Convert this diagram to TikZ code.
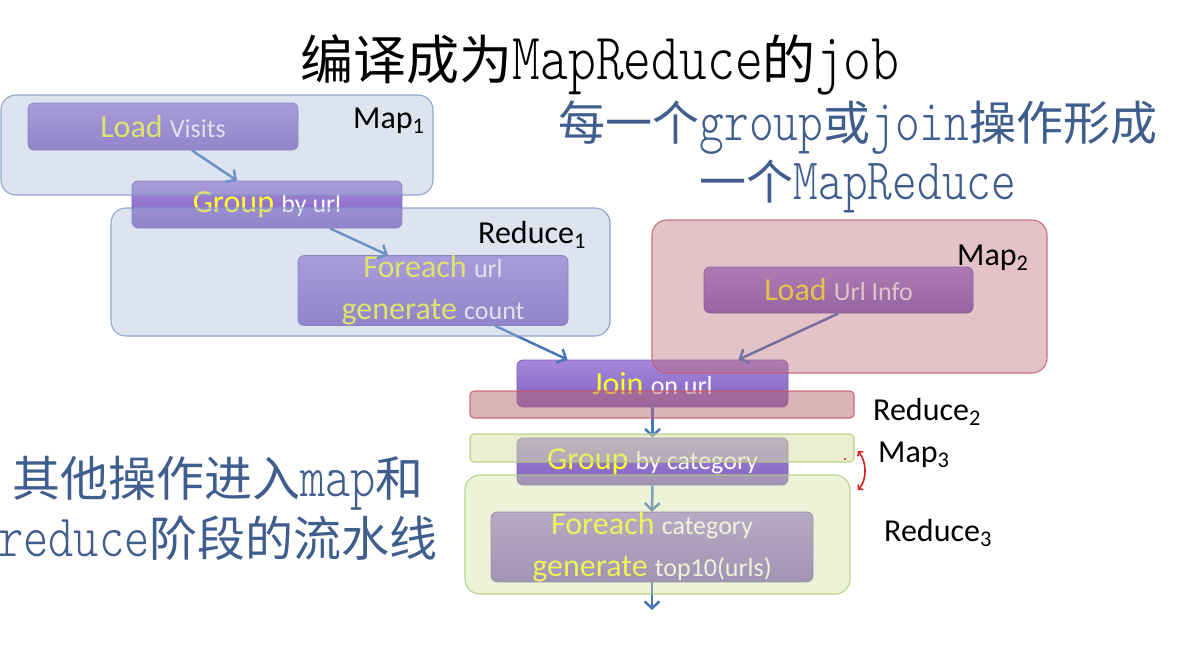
\documentclass[tikz,border=0pt]{standalone}
\usepackage{fontspec}
\setmainfont{Carlito}
\newfontfamily\cjkfont{Noto Sans CJK SC}
\newfontfamily\latf{lmmonolt10-regular}[Extension=.otf,Scale=1.25,FakeStretch=0.8]
\usetikzlibrary{arrows.meta}
\newcommand\lat[1]{{\latf #1}}
\definecolor{kwc}{RGB}{255,255,40}
\definecolor{argc}{RGB}{255,255,255}
\definecolor{optop}{RGB}{166,136,220}
\definecolor{opbot}{RGB}{128,96,190}
\definecolor{opborder}{RGB}{118,94,176}
\definecolor{arrowc}{RGB}{70,118,190}
\definecolor{bluetxt}{RGB}{63,94,142}
\definecolor{m1fill}{RGB}{172,187,217}
\definecolor{m1draw}{RGB}{128,152,196}
\definecolor{m2fill}{RGB}{185,107,118}
\definecolor{m2draw}{RGB}{196,90,106}
\definecolor{m3fill}{RGB}{212,225,162}
\definecolor{m3draw}{RGB}{178,204,124}
\definecolor{annot}{RGB}{214,32,32}
\newcommand\kwd[1]{{\color{kwc}\fontsize{32}{42}\selectfont #1}}
\newcommand\argt[1]{{\color{argc}\fontsize{26}{42}\selectfont #1}}
\tikzset{
  op/.style={rectangle, rounded corners=6pt, draw=opborder, line width=0.8pt,
    top color=optop, bottom color=opbot, inner sep=0pt, align=center,
    font=\fontsize{32}{42}\selectfont},
  cont/.style={rectangle, inner sep=0pt, fill opacity=0.4, draw opacity=0.85,
    line width=1.1pt, rounded corners=15pt},
  band/.style={cont, rounded corners=4pt, fill opacity=0.5},
  flow/.style={draw=arrowc, line width=2.5pt, -{Straight Barb[length=7pt,width=15pt]}},
  lab/.style={font=\fontsize{32}{38}\selectfont, text=black, inner sep=0pt, anchor=base west},
}
\begin{document}
\begin{tikzpicture}[x=1pt,y=-1pt]
\useasboundingbox (0,0) rectangle (1192,646);
\fill[white] (0,0) rectangle (1192,646);

% titles
\node[font=\fontsize{53}{60}\selectfont\cjkfont, text=black, inner sep=0pt] (title) at (600,65)
  {编译成为\lat{MapReduce}的\lat{job}};
\node[font=\fontsize{47}{59}\selectfont\cjkfont, text=bluetxt, align=center, inner sep=0pt] (sub) at (858,157)
  {每一个\lat{group}或\lat{join}操作形成\\一个\lat{MapReduce}};
\node[font=\fontsize{48}{60}\selectfont\cjkfont, text=bluetxt, align=center, inner sep=0pt] (side) at (218,508)
  {其他操作进入\lat{map}和\\\lat{reduce}阶段的流水线};

% operator boxes
\node[op, minimum width=270pt, minimum height=47pt] (lv) at (163,126.5) {\kwd{Load} \argt{Visits}};
\node[op, minimum width=270pt, minimum height=47pt] (gu) at (267,204.5) {\kwd{Group} \argt{by url}};
\node[op, minimum width=270pt, minimum height=63pt] (fu) at (433,290.5) {\kwd{Foreach} \argt{url}\\\kwd{generate} \argt{count}};
\node[op, minimum width=269pt, minimum height=46pt] (lu) at (838.5,290) {\kwd{Load} \argt{Url Info}};
\node[op, minimum width=271pt, minimum height=47pt] (jo) at (652.5,383.5) {\kwd{Join} \argt{on url}};
\node[op, minimum width=271pt, minimum height=47pt] (gc) at (652.5,461.5) {\kwd{Group} \argt{by category}};
\node[op, minimum width=322pt, minimum height=62pt] (fc) at (652,547) {\kwd{Foreach} \argt{category}\\\kwd{generate} \argt{top10(urls)}};
\coordinate (out) at (652,610);

% connectors
\draw[flow] ([xshift=29pt]lv.south) -- ([xshift=-30pt]gu.north);
\draw[flow] ([xshift=63pt]gu.south) -- ([xshift=-45pt]fu.north);
\draw[flow] ([xshift=62pt]fu.south) -- ([xshift=-85pt]jo.north);
\draw[flow] (lu.south) -- ([xshift=86pt]jo.north);
\draw[flow] (jo.south) -- (gc.north);
\draw[flow] (gc.south) -- (fc.north);
\draw[flow] (fc.south) -- (out);

% translucent stage regions
\node[cont, fill=m1fill, draw=m1draw, minimum width=432pt, minimum height=100pt] (map1) at (217,145) {};
\node[cont, fill=m1fill, draw=m1draw, minimum width=499pt, minimum height=128pt] (red1) at (360.5,272) {};
\node[cont, fill=m2fill, draw=m2draw, minimum width=395pt, minimum height=153pt] (map2) at (849.5,296.5) {};
\node[band, fill=m2fill, draw=m2draw, minimum width=384pt, minimum height=27pt] (red2) at (662,404.5) {};
\node[band, fill=m3fill, draw=m3draw, minimum width=384pt, minimum height=28pt] (map3) at (662,448) {};
\node[cont, fill=m3fill, draw=m3draw, minimum width=385pt, minimum height=119pt] (red3) at (657.5,534.5) {};

% stage labels
\node[lab] (lm1) at (353,128) {Map\textsubscript{1}};
\node[lab] (lr1) at (478,243) {Reduce\textsubscript{1}};
\node[lab] (lm2) at (957,265) {Map\textsubscript{2}};
\node[lab] (lr2) at (873,420) {Reduce\textsubscript{2}};
\node[lab] (lm3) at (878,462) {Map\textsubscript{3}};
\node[lab] (lr3) at (884,541) {Reduce\textsubscript{3}};

% hand annotation
\coordinate (ra) at (858,451);
\coordinate (rb) at (858,490);
\draw[annot, line width=1.6pt, {Straight Barb[length=3pt,width=7pt]}-{Straight Barb[length=3pt,width=7pt]}]
  (ra) .. controls (867,462) and (867,480) .. (rb);
\fill[annot] (845,459) circle (1.2pt);
\end{tikzpicture}
\end{document}
